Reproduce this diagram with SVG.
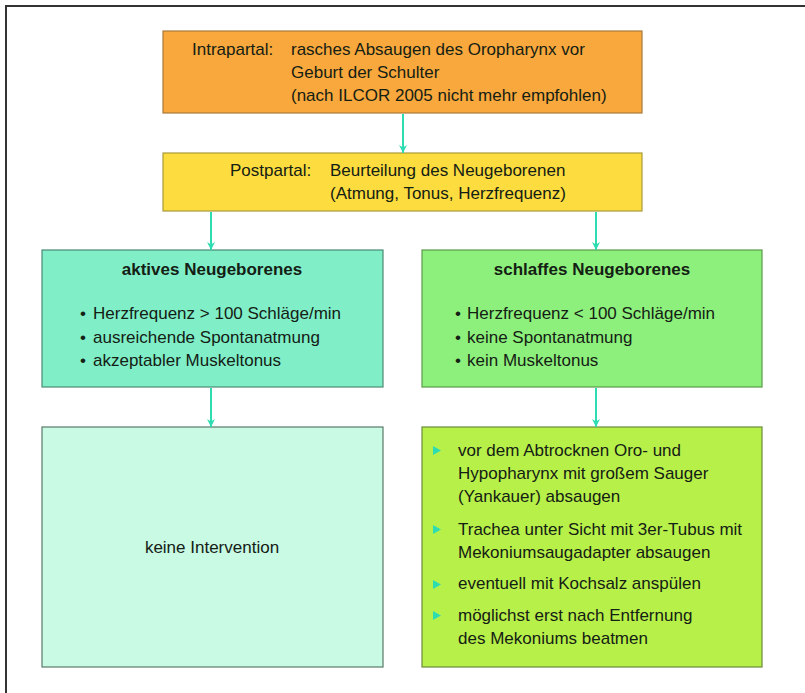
<svg xmlns="http://www.w3.org/2000/svg" width="805" height="693" viewBox="0 0 805 693">
<style>
  text { font-family: "Liberation Sans", Arial, sans-serif; font-size: 17px; fill: #142014; }
  .b { font-weight: bold; }
  .box { stroke-width: 1.2; }
  .conn line { stroke: #2ddcb0; stroke-width: 2; }
</style>
<defs>
  <marker id="arr" viewBox="0 0 10 10" refX="10" refY="5" markerWidth="4" markerHeight="4" orient="auto" markerUnits="strokeWidth">
    <path d="M0,0 L10,5 L0,10 L3,5 z" fill="#2ddcb0"/>
  </marker>
  <path id="tri" d="M0,0 L8,4.5 L0,9 z" fill="#2ddcb0"/>
</defs>
<rect width="805" height="693" fill="#ffffff"/>
<path d="M6,693 V6 H805" fill="none" stroke="#333333" stroke-width="2"/>

<g id="intrapartal">
  <rect class="box" x="163" y="31" width="479" height="82" fill="#f8a83c" stroke="#a87a3a"/>
  <text x="192" y="55">Intrapartal:</text>
  <text x="291" y="55">rasches Absaugen des Oropharynx vor</text>
  <text x="291" y="78">Geburt der Schulter</text>
  <text x="291" y="101">(nach ILCOR 2005 nicht mehr empfohlen)</text>
</g>

<g id="postpartal">
  <rect class="box" x="163" y="153" width="479" height="58" fill="#fcdc3e" stroke="#a89a3a"/>
  <text x="230" y="176">Postpartal:</text>
  <text x="330" y="176">Beurteilung des Neugeborenen</text>
  <text x="330" y="199">(Atmung, Tonus, Herzfrequenz)</text>
</g>

<g id="aktiv">
  <rect class="box" x="42" y="250" width="341" height="137" fill="#80efc8" stroke="#4a8a72"/>
  <text class="b" x="212" y="275" text-anchor="middle">aktives Neugeborenes</text>
  <text x="80" y="319">•</text><text x="93" y="319">Herzfrequenz &gt; 100 Schläge/min</text>
  <text x="80" y="343">•</text><text x="93" y="343">ausreichende Spontanatmung</text>
  <text x="80" y="366">•</text><text x="93" y="366">akzeptabler Muskeltonus</text>
</g>

<g id="schlaff">
  <rect class="box" x="422" y="250" width="340" height="137" fill="#8ef07c" stroke="#5a9a4a"/>
  <text class="b" x="592" y="275" text-anchor="middle">schlaffes Neugeborenes</text>
  <text x="455" y="319">•</text><text x="467" y="319">Herzfrequenz &lt; 100 Schläge/min</text>
  <text x="455" y="343">•</text><text x="467" y="343">keine Spontanatmung</text>
  <text x="455" y="366">•</text><text x="467" y="366">kein Muskeltonus</text>
</g>

<g id="keine-intervention">
  <rect class="box" x="42" y="427" width="341" height="240" fill="#c8fae4" stroke="#5a7a6a"/>
  <text x="212" y="553" text-anchor="middle">keine Intervention</text>
</g>

<g id="massnahmen">
  <rect class="box" x="422" y="427" width="340" height="240" fill="#b8f04a" stroke="#6a8a3a"/>
  <use href="#tri" x="433" y="446"/>
  <text x="458" y="456">vor dem Abtrocknen Oro- und</text>
  <text x="458" y="479">Hypopharynx mit großem Sauger</text>
  <text x="458" y="502">(Yankauer) absaugen</text>
  <use href="#tri" x="433" y="525"/>
  <text x="458" y="535">Trachea unter Sicht mit 3er-Tubus mit</text>
  <text x="458" y="558">Mekoniumsaugadapter absaugen</text>
  <use href="#tri" x="433" y="580"/>
  <text x="458" y="589">eventuell mit Kochsalz anspülen</text>
  <use href="#tri" x="433" y="611"/>
  <text x="458" y="621">möglichst erst nach Entfernung</text>
  <text x="458" y="644">des Mekoniums beatmen</text>
</g>

<g id="connectors" class="conn">
  <line x1="403" y1="114" x2="403" y2="153" marker-end="url(#arr)"/>
  <line x1="211" y1="212" x2="211" y2="250" marker-end="url(#arr)"/>
  <line x1="596" y1="212" x2="596" y2="250" marker-end="url(#arr)"/>
  <line x1="211" y1="388" x2="211" y2="427" marker-end="url(#arr)"/>
  <line x1="596" y1="388" x2="596" y2="427" marker-end="url(#arr)"/>
</g>
</svg>
